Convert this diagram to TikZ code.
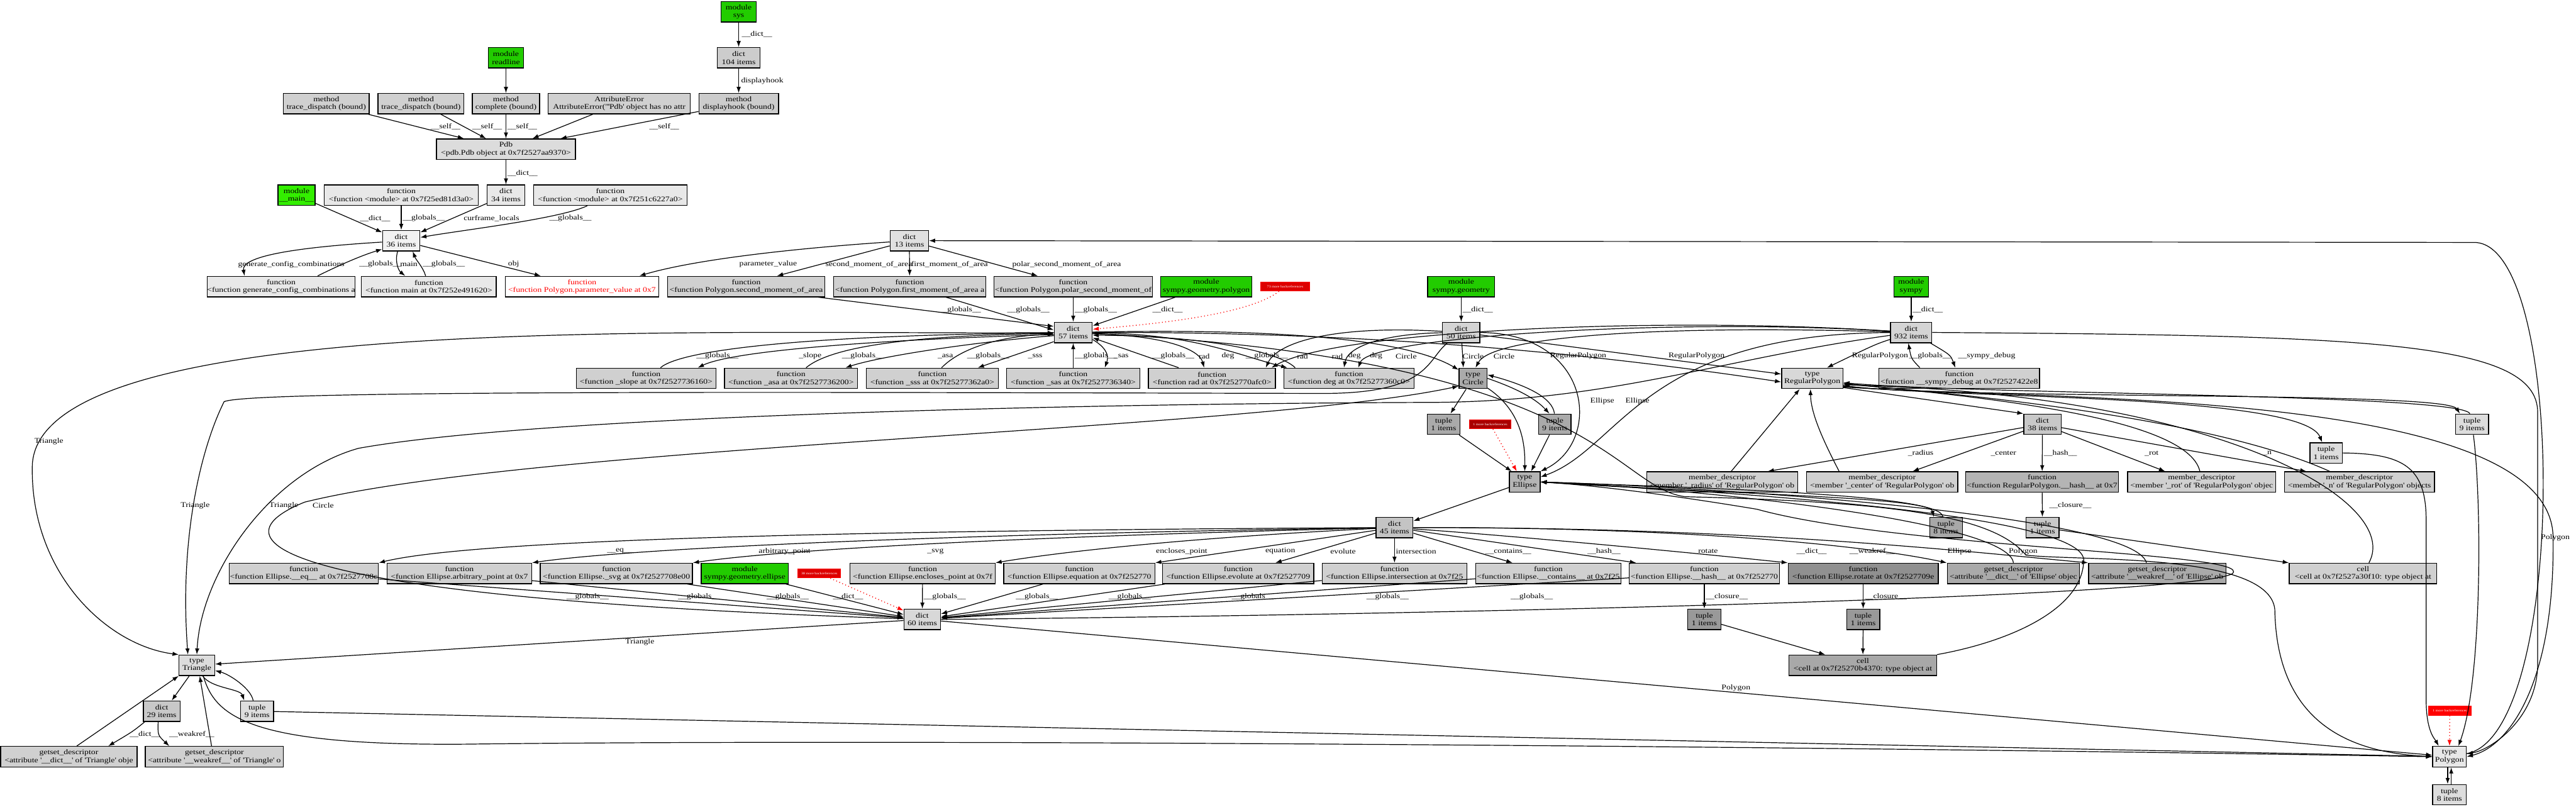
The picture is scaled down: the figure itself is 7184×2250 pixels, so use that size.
\documentclass[tikz,border=0pt]{standalone}
\usepackage{fontspec}
\setmainfont{Liberation Serif}[FakeStretch=1.2]
\usetikzlibrary{arrows.meta,calc}
\newcommand\nf{\fontsize{5.7}{6.3}\selectfont}
\newcommand\rf{\fontsize{2.5}{3}\selectfont}
\newcommand\q{\textquotesingle}
\newcommand\mkbox[6]{\node[b,#1,minimum width=#5cm] (#2) at (#3,#4) {#6};}
\definecolor{grn}{HTML}{22CC00}
\definecolor{grnb}{HTML}{33EE00}
\definecolor{redf}{HTML}{DD0000}
\definecolor{redd}{HTML}{AA0000}
\definecolor{g05}{HTML}{F2F2F2}
\definecolor{g09}{HTML}{E8E8E8}
\definecolor{g12}{HTML}{E0E0E0}
\definecolor{g13}{HTML}{DDDDDD}
\definecolor{g14}{HTML}{DCDCDC}
\definecolor{g15}{HTML}{D8D8D8}
\definecolor{g17}{HTML}{D4D4D4}
\definecolor{g18}{HTML}{D0D0D0}
\definecolor{g20}{HTML}{CCCCCC}
\definecolor{g21}{HTML}{C8C8C8}
\definecolor{g23}{HTML}{C4C4C4}
\definecolor{g29}{HTML}{B4B4B4}
\definecolor{g33}{HTML}{AAAAAA}
\definecolor{g34}{HTML}{A8A8A8}
\definecolor{g40}{HTML}{999999}
\definecolor{g44}{HTML}{909090}
\begin{document}
\begin{tikzpicture}[x=0.01cm,y=-0.01cm,
  b/.style={draw=black,line width=0.7pt,rectangle,align=center,minimum height=0.57cm,inner xsep=0pt,inner ysep=0pt,font=\nf},
  g/.style={fill=grn},
  redb/.style={draw=red,line width=0.5pt,fill=redf,text=white,font=\rf,minimum height=0.25cm,inner xsep=1pt,inner ysep=0pt},
  e/.style={draw,line width=0.6pt,-{Latex[length=0.17cm,width=0.12cm]}},
  re/.style={e,red,dotted,line width=0.7pt},
  l/.style={font=\nf,inner sep=0pt,anchor=west}]
\useasboundingbox (0,0) rectangle (7184,2250);
% ---------- nodes
\mkbox{g}{sys}{2060}{33}{0.99}{module\\sys}
\mkbox{fill=g20}{d104}{2060}{161}{1.19}{dict\\104 items}
\mkbox{g}{readline}{1411}{161}{0.99}{module\\readline}
\mkbox{fill=g18}{td1}{910}{289}{2.39}{method\\trace\_dispatch (bound)}
\mkbox{fill=g18}{td2}{1174}{289}{2.39}{method\\trace\_dispatch (bound)}
\mkbox{fill=g18}{complete}{1411}{289}{1.87}{method\\complete (bound)}
\mkbox{fill=g18}{attrerr}{1727}{289}{3.96}{AttributeError\\AttributeError(\textquotedbl\q Pdb\q{} object has no attr}
\mkbox{fill=g20}{displayhook}{2060}{289}{2.22}{method\\displayhook (bound)}
\mkbox{fill=g14}{Pdb}{1411}{416}{3.87}{Pdb\\<pdb.Pdb object at 0x7f2527aa9370>}
\mkbox{fill=grnb}{main}{827}{544}{1.03}{module\\\_\_main\_\_}
\mkbox{fill=g09}{fmod1}{1119}{544}{4.30}{function\\<function <module> at 0x7f25ed81d3a0>}
\mkbox{fill=g09}{d34}{1411}{544}{1.05}{dict\\34 items}
\mkbox{fill=g09}{fmod2}{1702}{544}{4.28}{function\\<function <module> at 0x7f251c6227a0>}
\mkbox{fill=g05}{d36}{1119}{671}{1.04}{dict\\36 items}
\mkbox{fill=g12}{d13}{2536}{671}{1.07}{dict\\13 items}
\mkbox{fill=g09}{fgen}{784}{799}{4.00}{function\\<function generate\_config\_combinations a}
\mkbox{fill=g09}{fmain}{1196}{799}{3.76}{function\\<function main at 0x7f252e491620>}
\mkbox{fill=white,text=red}{fparam}{1623}{799}{4.28}{function\\<function Polygon.parameter\_value at 0x7}
\mkbox{fill=g18}{fsecond}{2081}{799}{4.39}{function\\<function Polygon.second\_moment\_of\_area}
\mkbox{fill=g18}{ffirst}{2537}{799}{4.24}{function\\<function Polygon.first\_moment\_of\_area a}
\mkbox{fill=g18}{fpolar}{2993}{799}{4.41}{function\\<function Polygon.polar\_second\_moment\_of}
\mkbox{g}{modpoly}{3364}{799}{2.55}{module\\sympy.geometry.polygon}
\node[redb,minimum width=1.37cm] (red73) at (3584,799) {73 more backreferences};
\mkbox{g}{modgeom}{4075}{799}{1.87}{module\\sympy.geometry}
\mkbox{g}{modsympy}{5330}{799}{0.97}{module\\sympy}
\mkbox{fill=g15}{d57}{2993}{927}{1.06}{dict\\57 items}
\mkbox{fill=g17}{d50}{4075}{927}{1.04}{dict\\50 items}
\mkbox{fill=g17}{d932}{5330}{927}{1.15}{dict\\932 items}
\mkbox{fill=g18}{fslope}{1802}{1055}{3.89}{function\\<function \_slope at 0x7f2527736160>}
\mkbox{fill=g18}{fasa}{2206}{1055}{3.71}{function\\<function \_asa at 0x7f2527736200>}
\mkbox{fill=g18}{fsss}{2600}{1055}{3.68}{function\\<function \_sss at 0x7f25277362a0>}
\mkbox{fill=g18}{fsas}{2993}{1055}{3.71}{function\\<function \_sas at 0x7f2527736340>}
\mkbox{fill=g18}{frad}{3380}{1055}{3.54}{function\\<function rad at 0x7f252770afc0>}
\mkbox{fill=g18}{fdeg}{3762}{1055}{3.62}{function\\<function deg at 0x7f25277360c0>}
\mkbox{fill=g33}{tCircle}{4108}{1055}{0.78}{type\\Circle}
\mkbox{fill=g15}{tRegPoly}{5054}{1055}{1.71}{type\\RegularPolygon}
\mkbox{fill=g18}{fdebug}{5464}{1055}{4.48}{function\\<function \_\_sympy\_debug at 0x7f2527422e8}
\mkbox{fill=g33}{tuple1C}{4026}{1183}{0.91}{tuple\\1 items}
\node[redb,fill=redd,minimum width=1.17cm] (red1) at (4156,1183) {1 more backreferences};
\mkbox{fill=g33}{tuple9C}{4336}{1183}{0.91}{tuple\\9 items}
\mkbox{fill=g21}{d38}{5696}{1183}{1.04}{dict\\38 items}
\mkbox{fill=g13}{tuple9RP}{6894}{1183}{0.92}{tuple\\9 items}
\mkbox{fill=g13}{tuple1RP}{6487}{1263}{0.90}{tuple\\1 items}
\mkbox{fill=g29}{tEllipse}{4252}{1344}{0.86}{type\\Ellipse}
\mkbox{fill=g18}{mdradius}{4803}{1344}{4.20}{member\_descriptor\\<member \q\_radius\q{} of \q RegularPolygon\q{} ob}
\mkbox{fill=g18}{mdcenter}{5249}{1344}{4.21}{member\_descriptor\\<member \q\_center\q{} of \q RegularPolygon\q{} ob}
\mkbox{fill=g29}{fRPhash}{5695}{1344}{4.26}{function\\<function RegularPolygon.\_\_hash\_\_ at 0x7}
\mkbox{fill=g18}{mdrot}{6140}{1344}{4.13}{member\_descriptor\\<member \q\_rot\q{} of \q RegularPolygon\q{} objec}
\mkbox{fill=g18}{mdn}{6580}{1344}{4.18}{member\_descriptor\\<member \q\_n\q{} of \q RegularPolygon\q{} objects}
\mkbox{fill=g23}{d45}{3889}{1471}{1.03}{dict\\45 items}
\mkbox{fill=g34}{tuple8E}{5427}{1471}{0.91}{tuple\\8 items}
\mkbox{fill=g21}{tuple1RPc}{5696}{1471}{0.92}{tuple\\1 items}
\mkbox{fill=g18}{feq}{847}{1599}{4.16}{function\\<function Ellipse.\_\_eq\_\_ at 0x7f2527708c}
\mkbox{fill=g18}{farb}{1281}{1599}{4.03}{function\\<function Ellipse.arbitrary\_point at 0x7}
\mkbox{fill=g18}{fsvg}{1719}{1599}{4.24}{function\\<function Ellipse.\_svg at 0x7f2527708e00}
\mkbox{g}{modellipse}{2077}{1599}{2.43}{module\\sympy.geometry.ellipse}
\node[redb,minimum width=1.19cm] (red8) at (2285,1599) {38 more backreferences};
\mkbox{fill=g18}{fencl}{2573}{1599}{4.04}{function\\<function Ellipse.encloses\_point at 0x7f}
\mkbox{fill=g18}{fequation}{3010}{1599}{4.21}{function\\<function Ellipse.equation at 0x7f252770}
\mkbox{fill=g18}{fevolute}{3453}{1599}{4.21}{function\\<function Ellipse.evolute at 0x7f2527709}
\mkbox{fill=g18}{fintersect}{3889}{1599}{4.03}{function\\<function Ellipse.intersection at 0x7f25}
\mkbox{fill=g18}{fcontains}{4318}{1599}{4.05}{function\\<function Ellipse.\_\_contains\_\_ at 0x7f25}
\mkbox{fill=g18}{fhash}{4753}{1599}{4.18}{function\\<function Ellipse.\_\_hash\_\_ at 0x7f252770}
\mkbox{fill=g44}{frotate}{5196}{1599}{4.18}{function\\<function Ellipse.rotate at 0x7f2527709e}
\mkbox{fill=g33}{gsdict}{5615}{1599}{3.69}{getset\_descriptor\\<attribute \q\_\_dict\_\_\q{} of \q Ellipse\q{} objec}
\mkbox{fill=g33}{gsweak}{6016}{1599}{3.83}{getset\_descriptor\\<attribute \q\_\_weakref\_\_\q{} of \q Ellipse\q{} ob}
\mkbox{fill=g18}{cell2}{6590}{1599}{4.11}{cell\\<cell at 0x7f2527a30f10: type object at}
\mkbox{fill=g15}{d60}{2572}{1727}{1.02}{dict\\60 items}
\mkbox{fill=g40}{tuplehash}{4753}{1727}{0.92}{tuple\\1 items}
\mkbox{fill=g40}{tuplerot}{5196}{1727}{0.92}{tuple\\1 items}
\mkbox{fill=g14}{tTriangle}{549}{1855}{0.99}{type\\Triangle}
\mkbox{fill=g34}{cell}{5195}{1855}{4.11}{cell\\<cell at 0x7f25270b4370: type object at}
\mkbox{fill=g21}{d29}{451}{1983}{1.02}{dict\\29 items}
\mkbox{fill=g13}{tuple9T}{717}{1983}{0.92}{tuple\\9 items}
\node[redb,fill=red,minimum width=1.18cm] (redP) at (6832,1982) {1 more backreferences};
\mkbox{fill=g18}{gsdictT}{192}{2110}{3.80}{getset\_descriptor\\<attribute \q\_\_dict\_\_\q{} of \q Triangle\q{} obje}
\mkbox{fill=g18}{gsweakT}{598}{2110}{3.85}{getset\_descriptor\\<attribute \q\_\_weakref\_\_\q{} of \q Triangle\q{} o}
\mkbox{fill=g09}{tPolygon}{6831}{2110}{0.94}{type\\Polygon}
\mkbox{fill=g13}{tuple8P}{6831}{2216}{0.94}{tuple\\8 items}
% ---------- edges: top
\draw[e] (sys) -- (d104) node[l] at (2068,96) {\_\_dict\_\_};
\draw[e] (d104) -- (displayhook) node[l] at (2066,225) {displayhook};
\draw[e] (readline) -- (complete);
\draw[e] (td1) -- (Pdb) node[l] at (1200,353) {\_\_self\_\_};
\draw[e] (td2) -- (Pdb) node[l] at (1316,353) {\_\_self\_\_};
\draw[e] (complete) -- (Pdb) node[l] at (1414,353) {\_\_self\_\_};
\draw[e] (attrerr) -- (Pdb);
\draw[e] (displayhook) -- (Pdb) node[l] at (1810,353) {\_\_self\_\_};
\draw[e] (Pdb) -- (d34) node[l] at (1414,482) {\_\_dict\_\_};
\draw[e] (main) -- (d36) node[l] at (1003,609) {\_\_dict\_\_};
\draw[e] (fmod1) -- (d36) node[l] at (1122,609) {\_\_globals\_\_};
\draw[e] (d34) -- (d36) node[l] at (1292,609) {curframe\_locals};
\draw[e] (fmod2) .. controls (1560,610) and (1300,640) .. (d36) node[l] at (1531,609) {\_\_globals\_\_};
% d36
\draw[e] ($(d36.west)+(0,4)$) .. controls (820,690) and (672,715) .. ($(fgen.north)+(-102,0)$) node[l] at (663,737) {generate\_config\_combinations};
\draw[e] ($(fgen.north)+(102,0)$) .. controls (935,745) and (1000,715) .. ($(d36.south west)+(0,-6)$) node[l] at (1001,737) {\_\_globals\_\_};
\draw[e] ($(d36.south)+(-10,0)$) .. controls (1100,730) and (1112,755) .. ($(fmain.north)+(-66,0)$) node[l] at (1115,737) {main};
\draw[e] ($(fmain.north)+(-9,0)$) .. controls (1180,745) and (1160,725) .. ($(d36.south)+(32,0)$) node[l] at (1178,737) {\_\_globals\_\_};
\draw[e] (d36) -- ($(fparam.north)+(-115,0)$) node[l] at (1416,737) {obj};
% d13
\draw[e] (d13) .. controls (2250,690) and (1950,720) .. ($(fparam.north)+(160,0)$) node[l] at (2061,737) {parameter\_value};
\draw[e] (d13) -- ($(fsecond.north)+(86,0)$) node[l] at (2301,737) {second\_moment\_of\_area};
\draw[e] (d13) -- (ffirst) node[l] at (2540,737) {first\_moment\_of\_area};
\draw[e] (d13) -- ($(fpolar.north)+(-99,0)$) node[l] at (2822,737) {polar\_second\_moment\_of\_area};
\draw[e] ($(fsecond.south)+(201,0)$) -- ($(d57.west)+(0,-17)$) node[l] at (2617,864) {\_\_globals\_\_};
\draw[e] ($(ffirst.south)+(101,0)$) -- ($(d57.west)+(0,-7)$) node[l] at (2808,864) {\_\_globals\_\_};
\draw[e] (fpolar) -- (d57) node[l] at (2996,864) {\_\_globals\_\_};
\draw[e] (modpoly) -- (d57) node[l] at (3213,864) {\_\_dict\_\_};
\draw[re] (red73) .. controls (3480,880) and (3200,905) .. ($(d57.east)+(0,-9)$);
% d57 row
\draw[e] ($(d57.west)+(0,6)$) .. controls (2500,945) and (2050,975) .. ($(fslope.north)+(144,0)$) node[l] at (2227,993) {\_slope};
\draw[e] ($(fslope.north)+(40,0)$) .. controls (1900,975) and (2250,935) .. ($(d57.west)+(0,1)$) node[l] at (1941,992) {\_\_globals\_\_};
\draw[e] ($(d57.west)+(0,9)$) .. controls (2700,955) and (2450,995) .. ($(fasa.north)+(152,0)$) node[l] at (2614,993) {\_asa};
\draw[e] ($(fasa.north)+(42,0)$) .. controls (2320,965) and (2550,935) .. ($(d57.west)+(0,3)$) node[l] at (2347,993) {\_\_globals\_\_};
\draw[e] ($(d57.south west)+(0,-4)$) -- ($(fsss.north)+(127,0)$) node[l] at (2866,993) {\_sss};
\draw[e] ($(fsss.north)+(26,0)$) .. controls (2690,960) and (2820,935) .. ($(d57.west)+(0,5)$) node[l] at (2696,993) {\_\_globals\_\_};
\draw[e] (fsas) -- (d57) node[l] at (2996,993) {\_\_globals\_\_};
\draw[e] ($(d57.south east)+(0,-10)$) .. controls (3095,975) and (3090,1000) .. ($(fsas.north)+(88,0)$) node[l] at (3105,993) {\_sas};
\draw[e] ($(frad.north)+(-93,0)$) -- ($(d57.east)+(0,15)$) node[l] at (3212,993) {\_\_globals\_\_};
\draw[e] ($(d57.east)+(0,4)$) .. controls (3250,935) and (3345,975) .. ($(frad.north)+(-22,0)$) node[l] at (3342,993) {rad};
\draw[e] ($(d57.east)+(0,1)$) .. controls (3330,930) and (3450,990) .. ($(fdeg.north)+(-172,0)$) node[l] at (3406,993) {deg};
\draw[e] ($(fdeg.north)+(-150,0)$) .. controls (3560,975) and (3330,935) .. ($(d57.east)+(0,8)$) node[l] at (3473,993) {\_\_globals\_\_};
\draw[e] (d50) .. controls (3700,905) and (3560,960) .. ($(frad.north)+(150,0)$) node[l] at (3616,993) {rad};
\draw[e] (d932) .. controls (4600,880) and (3720,925) .. ($(frad.north)+(166,0)$) node[l] at (3713,993) {rad};
\draw[e] (d50) .. controls (3880,930) and (3760,960) .. ($(fdeg.north)+(-14,0)$) node[l] at (3759,993) {deg};
\draw[e] (d932) .. controls (4650,885) and (3820,940) .. ($(fdeg.north)+(26,0)$) node[l] at (3819,993) {deg};
\draw[e] (d57) .. controls (3600,915) and (3930,950) .. (tCircle) node[l] at (3891,993) {Circle};
\draw[e] (d50) -- ($(tCircle.north)+(-27,0)$) node[l] at (4078,993) {Circle};
\draw[e] (d932) .. controls (4600,905) and (4160,940) .. ($(tCircle.north)+(7,0)$) node[l] at (4164,993) {Circle};
\draw[e] (d57) .. controls (3800,925) and (4400,980) .. ($(tRegPoly.west)+(0,10)$) node[l] at (4322,993) {RegularPolygon};
\draw[e] (d50) -- ($(tRegPoly.west)+(0,-12)$) node[l] at (4652,993) {RegularPolygon};
\draw[e] (d932) .. controls (5230,960) .. ($(tRegPoly.north)+(41,0)$) node[l] at (5164,992) {RegularPolygon};
\draw[e] ($(d932.south east)+(-5,0)$) .. controls (5440,990) .. ($(fdebug.north)+(-11,0)$) node[l] at (5460,992) {\_\_sympy\_debug};
\draw[e] ($(fdebug.north)+(-110,0)$) .. controls (5330,1000) .. ($(d932.south)+(-8,0)$) node[l] at (5323,992) {\_\_globals\_\_};
\draw[e] (modgeom) -- (d50) node[l] at (4078,864) {\_\_dict\_\_};
\draw[e] (modsympy) -- (d932) node[l] at (5333,864) {\_\_dict\_\_};
% Circle / Ellipse
\draw[e] (tCircle) -- (tuple1C);
\draw[e] (tCircle.east) .. controls (4250,1090) and (4290,1120) .. ($(tuple9C.north)+(-15,0)$);
\draw[e] ($(tuple9C.north)+(-1,0)$) .. controls (4330,1110) and (4260,1075) .. ($(tCircle.east)+(0,-10)$);
\draw[e] (tCircle) .. controls (4250,1150) and (4253,1250) .. (tEllipse);
\draw[e] (tuple1C) -- ($(tEllipse.north west)+(8,0)$);
\draw[re] (red1) -- ($(tEllipse.north)+(-22,0)$);
\draw[e] (tuple9C) -- ($(tEllipse.north)+(18,0)$);
\draw[e] (d50.east) .. controls (4440,930) and (4470,1230) .. (tEllipse.north east) node[l] at (4434,1119) {Ellipse};
\draw[e] (d932) .. controls (4580,930) and (4520,1250) .. ($(tEllipse.east)+(0,-14)$) node[l] at (4532,1119) {Ellipse};
\draw[e] (tEllipse) -- (d45);
\draw[e] (tEllipse.east) .. controls (4800,1378) and (5380,1385) .. ($(tuple8E.north)+(-34,0)$);
\draw[e] ($(tuple8E.north)+(-9,0)$) .. controls (5420,1380) and (4800,1362) .. (tEllipse.east);
\draw[e] (gsdict.north) .. controls (5600,1450) and (4700,1360) .. (tEllipse.east);
\draw[e] ($(gsweak.north)+(-30,0)$) .. controls (5950,1430) and (4700,1355) .. (tEllipse.east);
\draw[e] (cell.north east) .. controls (5600,1790) and (5811,1700) .. (5811,1560) .. controls (5800,1420) and (4600,1360) .. (tEllipse.east);
% d45
\draw[e] (d45) .. controls (2200,1480) and (1300,1510) .. (feq.north east) node[l] at (1692,1537) {\_\_eq\_\_};
\draw[e] (d45) .. controls (2600,1490) and (1750,1530) .. (farb.north east) node[l] at (2115,1537) {arbitrary\_point};
\draw[e] (d45) .. controls (2900,1495) and (2200,1530) .. (fsvg.north east) node[l] at (2585,1537) {\_svg};
\draw[e] (d45) .. controls (3300,1500) and (2950,1540) .. (fencl.north east) node[l] at (3223,1537) {encloses\_point};
\draw[e] (d45) -- (fequation.north east) node[l] at (3528,1537) {equation};
\draw[e] (d45) -- ($(fevolute.north)+(104,0)$) node[l] at (3709,1537) {evolute};
\draw[e] (d45) -- (fintersect) node[l] at (3892,1537) {intersection};
\draw[e] (d45) -- ($(fcontains.north)+(-100,0)$) node[l] at (4141,1537) {\_\_contains\_\_};
\draw[e] (d45) -- ($(fhash.north west)+(20,0)$) node[l] at (4426,1537) {\_\_hash\_\_};
\draw[e] (d45) .. controls (4300,1500) and (4800,1550) .. (frotate.north west) node[l] at (4735,1537) {rotate};
\draw[e] (d45.east) .. controls (4700,1470) and (5200,1520) .. (gsdict.north west) node[l] at (5009,1537) {\_\_dict\_\_};
\draw[e] (d45.east) .. controls (4900,1470) and (5500,1540) .. (gsweak.north west) node[l] at (5157,1537) {\_\_weakref\_\_};
% d60
\draw[e] (feq) -- (d60) node[l] at (1579,1664) {\_\_globals\_\_};
\draw[e] (farb) -- (d60) node[l] at (1890,1664) {\_\_globals\_\_};
\draw[e] (fsvg) -- (d60) node[l] at (2137,1664) {\_\_globals\_\_};
\draw[e] (modellipse) -- (d60) node[l] at (2322,1664) {\_\_dict\_\_};
\draw[re] (red8) -- ($(d60.north west)+(0,5)$);
\draw[e] (fencl) -- (d60) node[l] at (2575,1664) {\_\_globals\_\_};
\draw[e] (fequation) -- (d60) node[l] at (2832,1664) {\_\_globals\_\_};
\draw[e] (fevolute) -- (d60) node[l] at (3091,1664) {\_\_globals\_\_};
\draw[e] (fintersect) -- (d60) node[l] at (3434,1664) {\_\_globals\_\_};
\draw[e] (fcontains) -- (d60) node[l] at (3810,1664) {\_\_globals\_\_};
\draw[e] (fhash) -- (d60) node[l] at (4212,1664) {\_\_globals\_\_};
\draw[e] (fhash) -- (tuplehash) node[l] at (4756,1664) {\_\_closure\_\_};
\draw[e] (frotate) -- (tuplerot) node[l] at (5199,1664) {\_\_closure\_\_};
\draw[e] (tuplehash) -- ($(cell.north)+(-105,0)$);
\draw[e] (tuplerot) -- (cell);
\draw[e] (d60) -- (tTriangle) node[l] at (1743,1791) {Triangle};
\draw[e] (d60) -- (tPolygon) node[l] at (4800,1919) {Polygon};
\draw[e] (d60.east) .. controls (4000,1715) and (6100,1665) .. (6225,1600) .. controls (6300,1540) and (5300,1530) .. (4900,1420) .. controls (4600,1370) and (4400,1350) .. (tEllipse.east) node[l] at (5430,1537) {Ellipse};
\draw[e] (d60) .. controls (700,1665) and (600,1500) .. (850,1400) .. controls (1500,1240) and (3500,1200) .. ($(tCircle.south west)+(0,-8)$) node[l] at (871,1409) {Circle};
% Triangle
\draw[e] (d57) .. controls (2000,935) and (100,860) .. (90,1300) .. controls (85,1600) and (300,1800) .. (tTriangle.north west) node[l] at (95,1230) {Triangle};
\draw[e] (d50) .. controls (3980,1000) and (3990,1095) .. (3700,1097) .. controls (2500,1095) and (700,1085) .. (625,1120) .. controls (560,1250) and (500,1500) .. ($(tTriangle.north)+(-25,0)$) node[l] at (503,1409) {Triangle};
\draw[e] (d932) .. controls (4800,1000) and (4500,1118) .. (4000,1122) .. controls (3000,1125) and (1500,1160) .. (1000,1250) .. controls (750,1320) and (560,1600) .. (tTriangle.north) node[l] at (750,1409) {Triangle};
\draw[e] (tTriangle) -- ($(d29.north)+(28,0)$);
\draw[e] ($(tTriangle.south)+(16,0)$) .. controls (590,1920) and (670,1920) .. ($(tuple9T.north)+(-36,0)$);
\draw[e] ($(tuple9T.north)+(-11,0)$) .. controls (700,1920) and (640,1880) .. ($(tTriangle.east)+(0,15)$);
\draw[e] ($(d29.south west)+(5,0)$) .. controls (370,2040) .. ($(gsdictT.north)+(110,0)$) node[l] at (361,2047) {\_\_dict\_\_};
\draw[e] ($(d29.south)+(-10,0)$) .. controls (440,2050) .. ($(gsweakT.north west)+(68,0)$) node[l] at (471,2047) {\_\_weakref\_\_};
\draw[e] ($(gsdictT.north)+(22,0)$) -- (tTriangle.south west);
\draw[e] ($(gsweakT.north)+(-8,0)$) -- ($(tTriangle.south)+(8,0)$);
\draw[e] ($(tTriangle.south)+(18,0)$) .. controls (600,2000) and (700,2080) .. (1300,2075) .. controls (2500,2060) and (5000,2080) .. (tPolygon.west);
\draw[e] (tuple9T) -- (tPolygon);
% RegularPolygon
\draw[e] ($(tRegPoly.south east)+(0,-4)$) -- (d38.north west);
\draw[e] (d38) -- ($(mdradius.north)+(127,0)$) node[l] at (5320,1264) {\_radius};
\draw[e] (d38) -- ($(mdcenter.north)+(85,0)$) node[l] at (5551,1264) {\_center};
\draw[e] (d38) -- (fRPhash) node[l] at (5699,1264) {\_\_hash\_\_};
\draw[e] (d38) -- ($(mdrot.north)+(-102,0)$) node[l] at (5980,1264) {\_rot};
\draw[e] (d38) -- ($(mdn.north)+(-148,0)$) node[l] at (6310,1264) {\_n};
\draw[e] (fRPhash) -- (tuple1RPc) node[l] at (5714,1409) {\_\_closure\_\_};
\draw[e] (tuple1RPc) -- (cell2.north west);
\draw[e] ($(mdradius.north)+(25,0)$) -- ($(tRegPoly.south)+(-35,0)$);
\draw[e] ($(mdcenter.north)+(-120,0)$) .. controls (5080,1220) and (5050,1150) .. ($(tRegPoly.south)+(-5,0)$);
\draw[e] ($(mdrot.north)+(-5,0)$) .. controls (6100,1160) and (5500,1105) .. ($(tRegPoly.east)+(0,14)$);
\draw[e] ($(mdn.north)+(-83,0)$) .. controls (6200,1180) and (5600,1108) .. ($(tRegPoly.east)+(0,16)$);
\draw[e] (cell2) .. controls (6700,1400) and (6200,1100) .. ($(tRegPoly.east)+(0,18)$);
\draw[e] ($(tRegPoly.east)+(0,20)$) .. controls (5400,1112) and (6420,1095) .. ($(tuple1RP.north)+(-11,0)$);
\draw[e] (tuple1RP.east) .. controls (6700,1265) and (6766,1300) .. (6766,1450) -- (6766,1950) .. controls (6766,2040) and (6790,2060) .. ($(tPolygon.north)+(-30,0)$);
\draw[e] ($(tRegPoly.east)+(0,22)$) .. controls (5500,1115) and (6820,1090) .. ($(tuple9RP.north)+(-34,0)$);
\draw[e] ($(tuple9RP.north)+(-6,0)$) .. controls (6860,1098) and (5500,1100) .. ($(tRegPoly.east)+(0,12)$);
\draw[e] (tuple9RP) .. controls (6922,1400) and (6922,1900) .. ($(tPolygon.north)+(25,0)$);
\draw[e] ($(tRegPoly.east)+(0,24)$) .. controls (5700,1118) and (7120,1080) .. (7120,1500) .. controls (7125,1900) and (7000,2080) .. (tPolygon.east);
\draw[e] (d932.east) .. controls (6600,935) and (7077,950) .. (7077,1150) -- (7077,1850) .. controls (7077,2000) and (6950,2090) .. ($(tPolygon.east)+(0,-8)$) node[l] at (7085,1500) {Polygon};
\draw[e] (d57) .. controls (4460,1000) and (4500,1360) .. (4700,1385) .. controls (5300,1400) and (5560,1440) .. (5650,1548) .. controls (5800,1565) and (6330,1540) .. (6344,1700) .. controls (6350,2050) and (6600,2100) .. (tPolygon.west) node[l] at (5601,1537) {Polygon};
% Polygon
\draw[e] (tPolygon) .. controls (7160,2050) and (7160,676) .. (6900,676) -- (d13);
\draw[e] ($(tPolygon.south)+(-5,0)$) -- ($(tuple8P.north)+(-5,0)$);
\draw[e] ($(tuple8P.north)+(5,0)$) -- ($(tPolygon.south)+(5,0)$);
\draw[re] (redP) -- (tPolygon);
\end{tikzpicture}
\end{document}
